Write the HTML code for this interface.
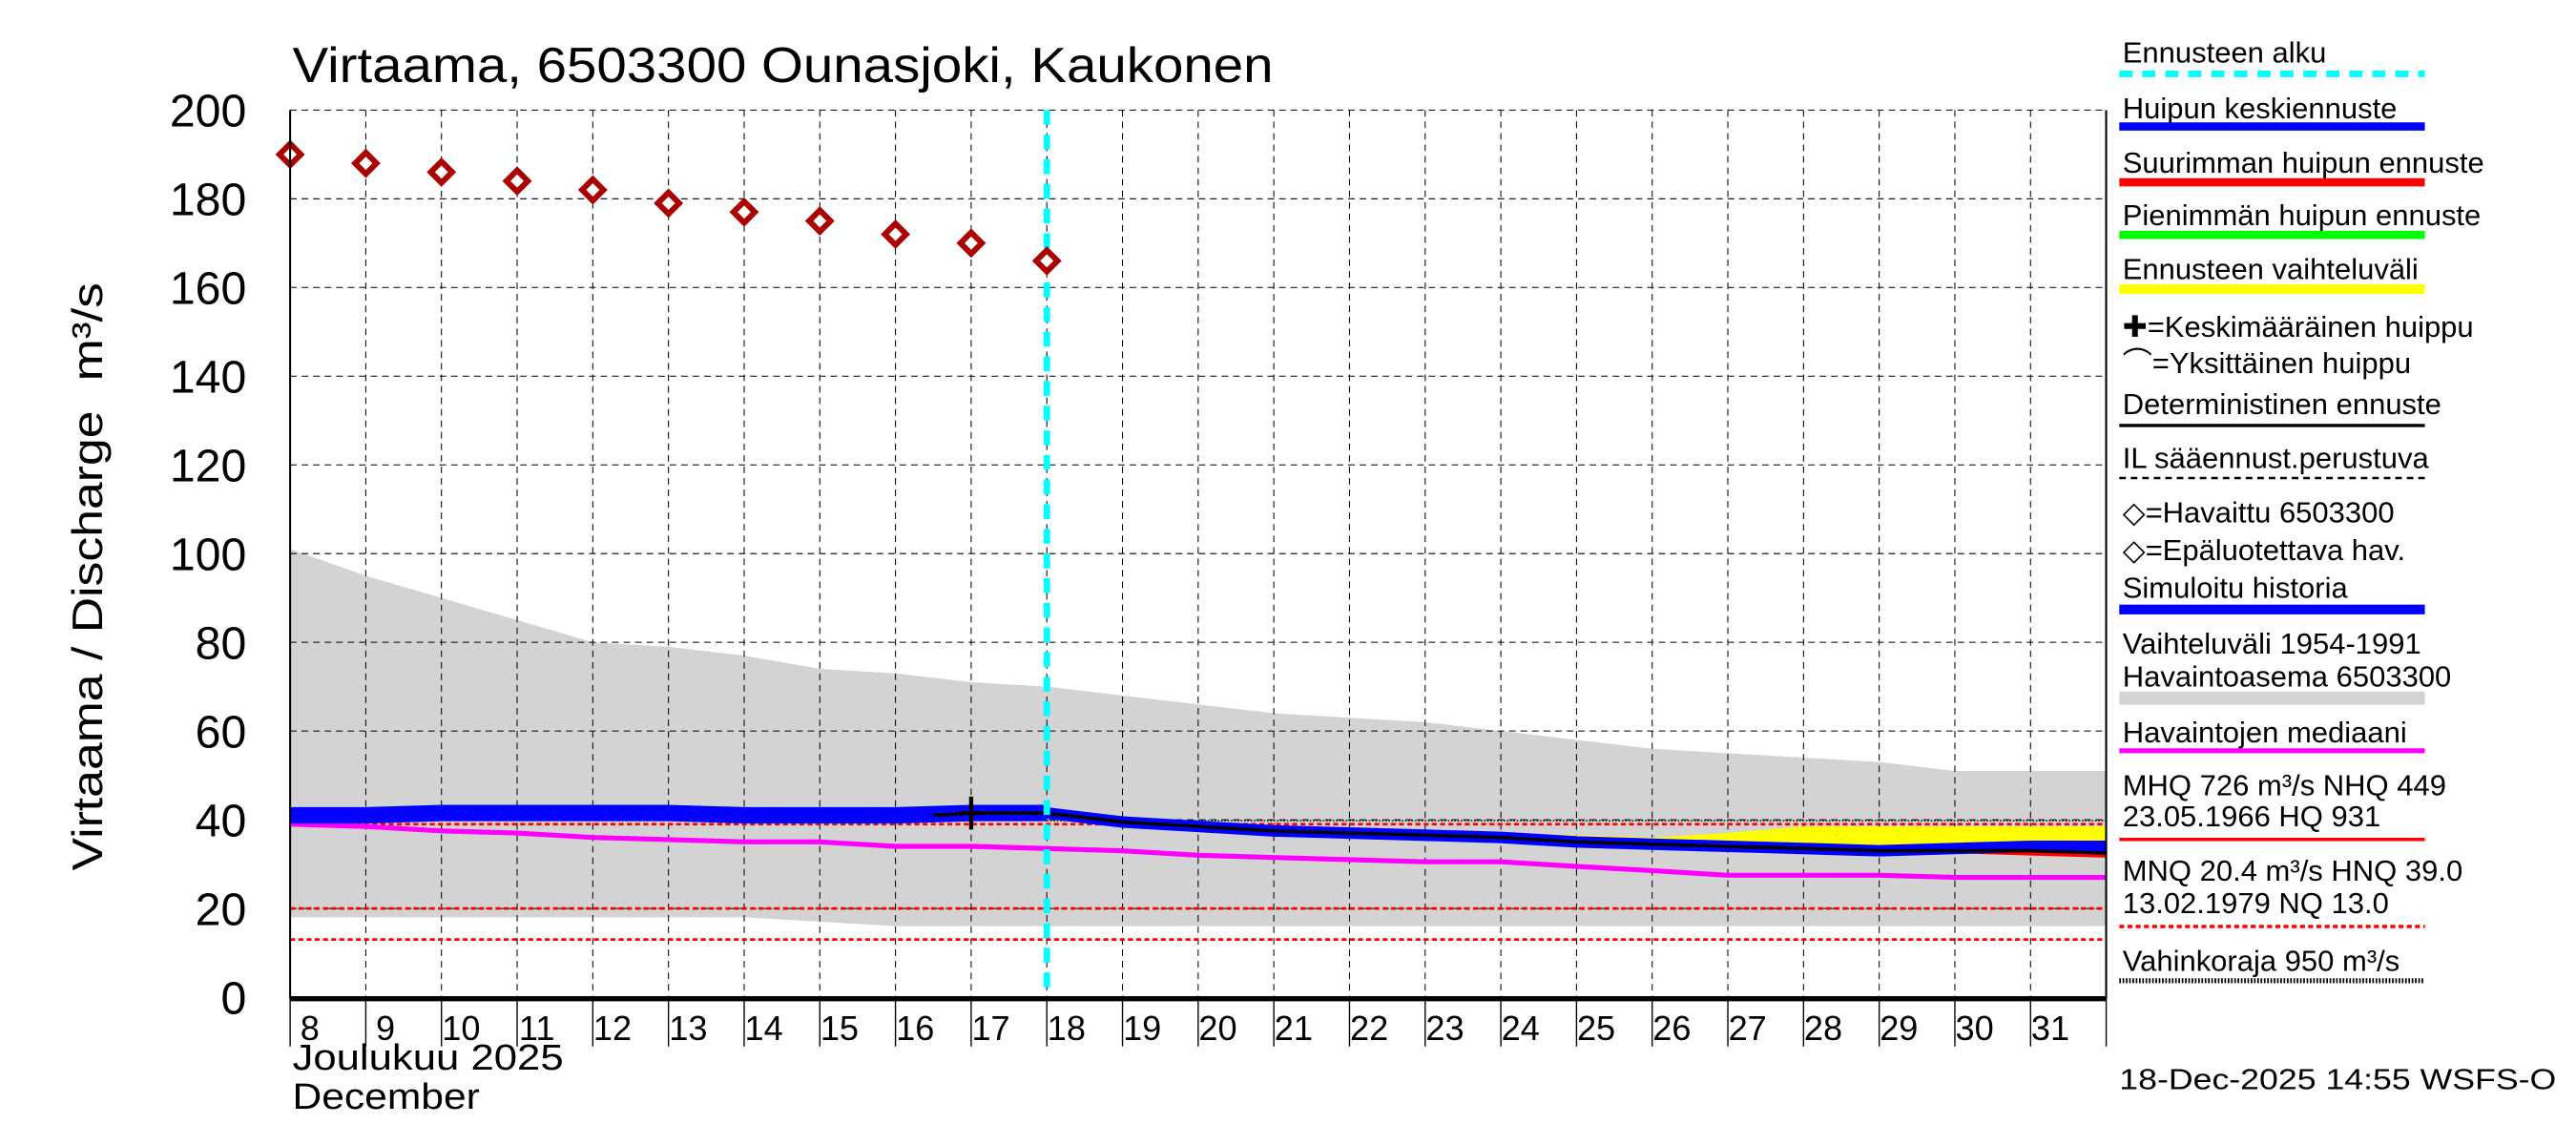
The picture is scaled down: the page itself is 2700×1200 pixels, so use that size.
<!DOCTYPE html>
<html><head><meta charset="utf-8"><style>
html,body{margin:0;padding:0;background:#fff;}
svg{display:block;}
text{font-family:"Liberation Sans",sans-serif;fill:#000;}
</style></head><body>
<svg id="chart" width="2700" height="1200" viewBox="0 0 1568 697" preserveAspectRatio="none" xmlns="http://www.w3.org/2000/svg">
<g id="plot"></g>
<g id="legend"></g>
</svg>
<script>
const days=[8,9,10,11,12,13,14,15,16,17,18,19,20,21,22,23,24,25,26,27,28,29,30,31,32];
const bandUpper=[101,95,90,85,80,79,77,74,73,71,70,68,66,64,63,62,60,58,56,55,54,53,51,51,51];
const bandLower=[18,18,18,18,18,18,18,17,16,16,16,16,16,16,16,16,16,16,16,16,16,16,16,16,16];
const median=[39,38.5,37.5,37,36,35.5,35,35,34,34,33.5,33,32,31.5,31,30.5,30.5,29.5,28.5,27.5,27.5,27.5,27,27,27];
const simDays=[8,9,10,11,12,13,14,15,16,17,18];
const simValues=[41,41,41.5,41.5,41.5,41.5,41,41,41,41.5,41.5];
const fcDays=[16.5,17,18,19,20,21,22,23,24,25,26,27,28,29,30,31,32];
const fcMean=[41,41.5,41.5,39.5,38.5,37.5,37,36.5,36,35,34.5,34,33.5,33,33.5,34,34];
const fcMax=[41,41.5,41.5,40,39,38,37.5,37,36.5,35.5,35,34.5,34,33.5,33,32.5,32];
const fcYelHi=[41,41.5,41.5,40,39,38.5,38,37.5,37,36.5,36,37,38.5,38.5,38.5,38.5,38.5];
const fcYelLo=[41,41.5,41.5,39,38,37,36.5,36,35.5,34.5,34,33.5,33,32.5,32.5,33,33];
const fcDet=[41,41.5,41.5,39.5,38.5,37.5,37,36.5,36,35,34.5,34,33.5,33,33,33,32.5];
const obsDays=[8,9,10,11,12,13,14,15,16,17,18];
const obsValues=[190,188,186,184,182,179,177,175,172,170,166];
const yTicks=[0,20,40,60,80,100,120,140,160,180,200];
const xLabels=[8,9,10,11,12,13,14,15,16,17,18,19,20,21,22,23,24,25,26,27,28,29,30,31];
const refLines=[39,20,13];

const NS="http://www.w3.org/2000/svg";
const X=d=>176.6+(d-8)*46.06;
const Y=v=>607-v*2.7;
const plot=document.getElementById('plot');
const leg=document.getElementById('legend');
function mk(tag,attrs,parent,txt){const e=document.createElementNS(NS,tag);for(const k in attrs)e.setAttribute(k,attrs[k]);if(txt!==undefined)e.textContent=txt;(parent||plot).appendChild(e);return e;}
function pts(xs,ys){return xs.map((d,i)=>X(d).toFixed(1)+','+Y(ys[i]).toFixed(1)).join(' ');}
function area(xs,hi,lo){return pts(xs,hi)+' '+xs.map((d,i)=>X(d).toFixed(1)+','+Y(lo[i]).toFixed(1)).reverse().join(' ');}

let e=mk('polygon',{points:area(days,bandUpper,bandLower),fill:'#d3d3d3'});


for(const v of yTicks){if(v===0)continue;e=mk('line',{x1:176.6,x2:1282,y1:Y(v),y2:Y(v),stroke:'#000','stroke-width':0.6,'stroke-dasharray':'4,3'});

}
for(let d=9;d<=31;d++){e=mk('line',{x1:X(d),x2:X(d),y1:Y(200),y2:Y(0),stroke:'#000','stroke-width':0.6,'stroke-dasharray':'4,3'});

}
for(const v of refLines){e=mk('line',{x1:176.6,x2:1282,y1:Y(v),y2:Y(v),stroke:'#ff0000','stroke-width':1.6,'stroke-dasharray':'3,2'});

}
e=mk('line',{x1:X(18),x2:1282,y1:Y(39.8),y2:Y(39.8),stroke:'#000','stroke-width':0.8,'stroke-dasharray':'1,1'});


e=mk('polyline',{points:pts(days,median),fill:'none',stroke:'#ff00ff','stroke-width':3});


e=mk('polyline',{points:pts(simDays,simValues),fill:'none',stroke:'#0000ff','stroke-width':10});


e=mk('polygon',{points:area(fcDays,fcYelHi,fcYelLo),fill:'#ffff00'});


e=mk('polyline',{points:pts(fcDays,fcMax),fill:'none',stroke:'#ff0000','stroke-width':3});


e=mk('polyline',{points:pts(fcDays,fcMean),fill:'none',stroke:'#0000ff','stroke-width':7});


e=mk('polyline',{points:pts(fcDays,fcDet),fill:'none',stroke:'#000','stroke-width':2});


e=mk('path',{d:`M${X(17)},${Y(41.5)-10}V${Y(41.5)+10}M${X(17)-7},${Y(41.5)}H${X(17)+7}`,stroke:'#000','stroke-width':2.5});


e=mk('line',{x1:X(18),x2:X(18),y1:Y(200),y2:Y(0),stroke:'#00ffff','stroke-width':4,'stroke-dasharray':'9,6'});


obsDays.forEach((d,i)=>{const cx=X(d),cy=Y(obsValues[i]);
const m=mk('polygon',{points:`${cx},${cy-6.5} ${cx+6.5},${cy} ${cx},${cy+6.5} ${cx-6.5},${cy}`,fill:'#fff',stroke:'#aa0000','stroke-width':3.5});

});
e=mk('path',{d:`M176.6,${Y(200)}V${Y(0)}H1282V${Y(200)}`,fill:'none',stroke:'#000','stroke-width':1.2});


e=mk('line',{x1:176.6,x2:1282,y1:Y(0)+1,y2:Y(0)+1,stroke:'#000','stroke-width':3});


for(const v of yTicks){e=mk('text',{x:150,y:Y(v)+10,'font-size':28,'text-anchor':'end'},plot,String(v));

}
for(let d=8;d<=32;d++){e=mk('line',{x1:X(d),x2:X(d),y1:Y(0),y2:Y(0)+30,stroke:'#000','stroke-width':0.8});

}
for(const d of xLabels){e=mk('text',{x:X(d)+12,y:633,'font-size':21,'text-anchor':'middle'},plot,String(d));

}
e=mk('text',{x:178,y:651,'font-size':22,textLength:165,lengthAdjust:'spacingAndGlyphs'},plot,'Joulukuu  2025');


e=mk('text',{x:178,y:675,'font-size':22,textLength:114,lengthAdjust:'spacingAndGlyphs'},plot,'December');


e=mk('text',{x:178,y:50,'font-size':30,textLength:597,lengthAdjust:'spacingAndGlyphs'},plot,'Virtaama, 6503300 Ounasjoki, Kaukonen');


e=mk('text',{x:0,y:0,'font-size':26,transform:'translate(62,530) rotate(-90)',textLength:280,lengthAdjust:'spacingAndGlyphs'},plot,'Virtaama / Discharge');


e=mk('text',{x:0,y:0,'font-size':26,transform:'translate(62,232) rotate(-90)',textLength:60,lengthAdjust:'spacingAndGlyphs'},plot,'m³/s');


e=mk('text',{x:1290,y:663,'font-size':18,textLength:266,lengthAdjust:'spacingAndGlyphs'},plot,'18-Dec-2025 14:55 WSFS-O');



const L=1290,LE=1476;
function lt(y,t){return mk('text',{x:L+2,y:y,'font-size':18},leg,t);}
function ll(y,c,w,dash){const a={x1:L,x2:LE,y1:y,y2:y,stroke:c,'stroke-width':w};if(dash)a['stroke-dasharray']=dash;return mk('line',a,leg);}
const items=[
 [38,'Ennusteen alku',45,'#00ffff',4,'8,6'],
 [72,'Huipun keskiennuste',77,'#0000ff',5],
 [105,'Suurimman huipun ennuste',111,'#ff0000',5],
 [137,'Pienimmän huipun ennuste',143,'#00ff00',5],
 [170,'Ennusteen vaihteluväli',176,'#ffff00',6],
 [252,'Deterministinen ennuste',259,'#000',2],
 [285,'IL sääennust.perustuva',291,'#000',1.5,'4,3'],
 [364,'Simuloitu historia',371,'#0000ff',6],
 [452,'Havaintojen mediaani',457,'#ff00ff',3],
 [518,'',511,'#ff0000',2],
 [0,'',564,'#ff0000',2,'3,2'],
 [591,'Vahinkoraja 950 m³/s',597,'#000',3,'1,1']
];
for(const it of items){if(it[1]){e=lt(it[0],it[1]);

}
e=ll(it[2],it[3],it[4],it[5]);

}
const extra=[[205,'✚=Keskimääräinen huippu'],[227,'⌒=Yksittäinen huippu'],[318,'◇=Havaittu 6503300'],[341,'◇=Epäluotettava hav.'],[398,'Vaihteluväli 1954-1991'],[418,'Havaintoasema 6503300'],[484,'MHQ  726 m³/s NHQ  449'],[503,'23.05.1966 HQ  931'],[536,'MNQ 20.4 m³/s HNQ 39.0'],[556,'13.02.1979 NQ 13.0']];
for(const x of extra){e=mk('text',{x:L+2,y:x[0],'font-size':18},leg,x[1]);

}
e=ll(425,'#d3d3d3',8);


</script>
</body></html>
